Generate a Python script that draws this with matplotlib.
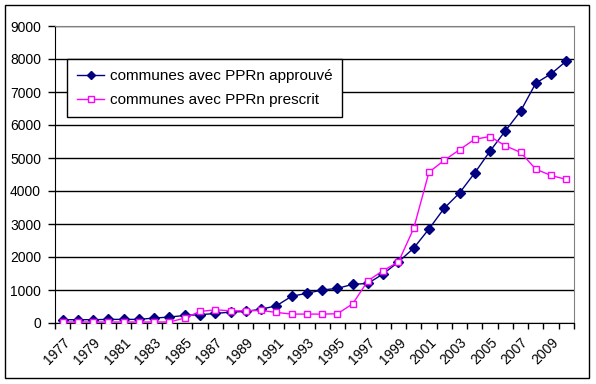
import matplotlib
matplotlib.use("Agg")
import matplotlib.pyplot as plt
from matplotlib.patches import Rectangle
from matplotlib.ticker import FixedLocator, NullFormatter

plt.rcParams["font.family"] = ["Liberation Sans", "DejaVu Sans"]

years = list(range(1977, 2011))
approuve = [100, 100, 100, 110, 110, 110, 150, 180, 230, 250,
            290, 330, 350, 420, 520, 810, 900, 1000, 1050, 1170,
            1200, 1490, 1850, 2270, 2850, 3480, 3940, 4550, 5210, 5820,
            6420, 7270, 7550, 7940]
prescrit = [30, 30, 30, 30, 30, 30, 30, 30, 150, 350,
            400, 370, 370, 380, 320, 270, 270, 270, 280, 580,
            1280, 1590, 1850, 2870, 4570, 4930, 5250, 5570, 5650, 5370,
            5170, 4660, 4470, 4350]
labels = ["communes avec PPRn approuvé", "communes avec PPRn prescrit"]

W, H = 596, 384
fig = plt.figure(figsize=(W / 100, H / 100), dpi=100)
ax = fig.add_axes([55 / W, (H - 323) / H, (574 - 55) / W, (323 - 26) / H])

# cadre exterieur
fig.patches.append(Rectangle((5 / W, (H - 378) / H), 584 / W, 373 / H,
                             transform=fig.transFigure, fill=False,
                             edgecolor="black", linewidth=1))

x = list(range(len(years)))
ax.plot(x, approuve, color="#000080", marker="D", markersize=5,
        linewidth=1, label=labels[0], zorder=3)
ax.plot(x, prescrit, color="#FF00FF", marker="s", markersize=5,
        markerfacecolor="white", markeredgecolor="#FF00FF",
        markeredgewidth=1, linewidth=1, label=labels[1], zorder=4)

ax.set_xlim(-0.5, len(years) - 0.5)
ax.set_ylim(0, 9000)
ax.set_yticks(range(0, 9001, 1000))
ax.yaxis.grid(True, color="black", linewidth=1)
ax.set_axisbelow(True)

# graduations entre categories, libelles au centre
ax.xaxis.set_major_locator(FixedLocator([i - 0.5 for i in range(len(years) + 1)]))
ax.xaxis.set_major_formatter(NullFormatter())
ax.xaxis.set_minor_locator(FixedLocator(x[::2]))
ax.set_xticklabels([str(y) for y in years[::2]], minor=True)
ax.tick_params(axis="x", which="major", direction="out", length=4, width=1)
ax.tick_params(axis="x", which="minor", length=0, pad=9, labelsize=10)
for t in ax.get_xticklabels(minor=True):
    t.set_rotation(45)
    t.set_ha("right")
    t.set_va("top")
    t.set_rotation_mode("anchor")
ax.tick_params(axis="y", direction="out", length=5, width=1, pad=5, labelsize=10)

for s in ["top", "right"]:
    ax.spines[s].set_color("#808080")
for s in ["left", "bottom"]:
    ax.spines[s].set_color("black")

leg = ax.legend(loc="upper left", bbox_to_anchor=(12 / 519, (323 - 59) / 297),
                borderaxespad=0, frameon=True, fancybox=False,
                edgecolor="black", framealpha=1, fontsize=11,
                handlelength=1.8, borderpad=0.65, labelspacing=0.65,
                handletextpad=0.35, markerscale=0.75)
leg.get_frame().set_linewidth(1)

fig.savefig("out.png", dpi=100)
